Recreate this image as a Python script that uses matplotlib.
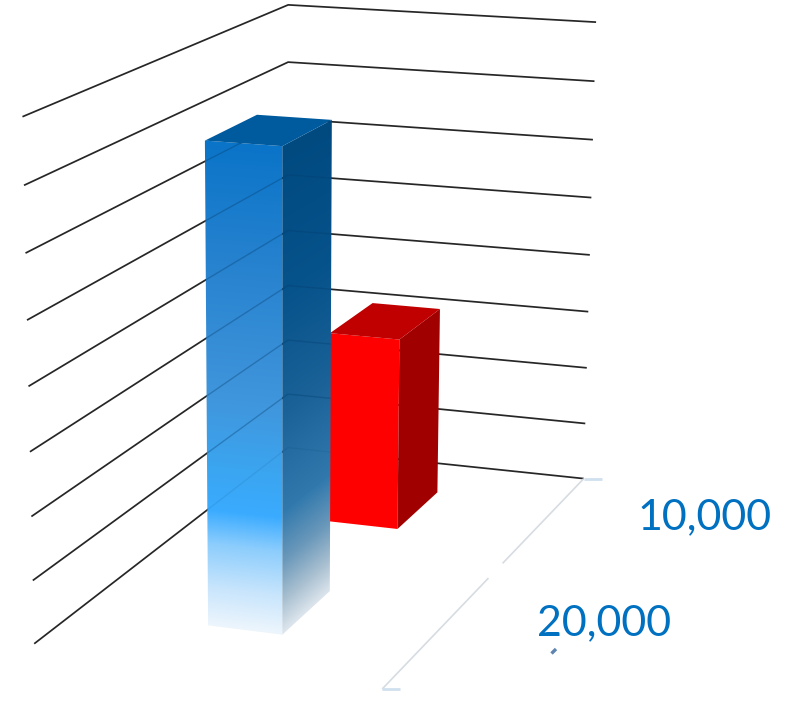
import numpy as np, matplotlib
matplotlib.use('Agg')
import matplotlib.pyplot as plt
from matplotlib.patches import Polygon
from matplotlib.colors import to_rgb

# chart data
grid_levels = list(range(9))
depth_labels = ['10,000', '20,000']
bar_values = [3.25, 7.49]
bar_colors = ['red', 'blue']
x_span = (0.390, 0.609)
y_spans = [(0.150, 0.348), (0.654, 0.849)]

# camera of the 3-D chart: (x, depth, level) -> picture pixels
P = np.array([[277.48642, -259.428842, -1.327449, 287.89412],
              [15.895948, 87.997779, -55.360632, 447.584868],
              [-0.03155887, -0.16798912, -0.00471837, 1.0]])

def proj(x, y, z):
    h = P @ np.array([x, y, z, 1.0])
    return h[:2] / h[2]

fig = plt.figure(figsize=(7.97, 7.10), dpi=100)
ax = fig.add_axes([0, 0, 1, 1])
ax.set_xlim(0, 797)
ax.set_ylim(710, 0)
ax.axis('off')

def line(pts, **k):
    pts = np.array(pts)
    return ax.plot(pts[:, 0], pts[:, 1], solid_capstyle='butt', **k)[0]

def wall_pts(z):
    return [proj(0, 1, z), proj(0, 0, z), proj(1, 0, z)]

for z in grid_levels:
    line(wall_pts(z), color='#262626', lw=1.25, zorder=1)

# floor edge with its gap and end ticks
fa, fb = proj(1, 0, 0), proj(1, 1, 0)
g0, g1 = 0.403, 0.473
line([fa, fa + (fb - fa) * g0], color='#d6dce2', lw=1.2, zorder=1)
line([fa + (fb - fa) * g1, fb], color='#d6dce2', lw=1.2, zorder=1)
for pt in (fa, fb):
    line([pt, pt + np.array([18, 0])], color='#cfe0ee', lw=2, zorder=1)
line([(556, 649), (551.5, 653.5)], color='#5d85b0', lw=2.4, zorder=1)

def grad_face(tl, tr, br, bl, stops, zorder):
    xs = np.arange(np.floor(min(tl[0], bl[0])) - 1, np.ceil(max(tr[0], br[0])) + 2)
    ys = np.arange(np.floor(min(tl[1], tr[1])) - 1, np.ceil(max(bl[1], br[1])) + 2)
    X, Y = np.meshgrid(xs + .5, ys + .5)
    fx = (X - tl[0]) / (tr[0] - tl[0])
    top = tl[1] + fx * (tr[1] - tl[1])
    bot = bl[1] + fx * (br[1] - bl[1])
    T = np.clip((Y - top) / (bot - top), 0, 1)
    ts = [s[0] for s in stops]
    cols = np.array([to_rgb(s[1]) for s in stops])
    img = np.dstack([np.interp(T, ts, cols[:, i]) for i in range(3)])
    im = ax.imshow(img, extent=(xs[0], xs[-1] + 1, ys[-1] + 1, ys[0]), aspect='auto',
                   zorder=zorder, interpolation='bilinear')
    poly = Polygon([tl, tr, br, bl], closed=True, transform=ax.transData, fc='none', ec='none')
    ax.add_patch(poly)
    im.set_clip_path(poly)
    return poly

front_stops = [(0, '#0a74c8'), (.28, '#2a84d0'), (.53, '#4096dc'), (.67, '#3ba5f0'),
               (.76, '#3aabff'), (.83, '#8ccdfd'), (.92, '#c8e5fc'), (1, '#eef6fd')]
side_stops = [(0, '#004a80'), (.3, '#06528a'), (.55, '#1a6298'), (.75, '#3179ad'),
              (.85, '#6a98ba'), (.93, '#a8bfd0'), (1, '#dfe7ee')]

for i, (v, c, (y0, y1)) in enumerate(zip(bar_values, bar_colors, y_spans)):
    x0, x1 = x_span
    ftl, ftr, fbr, fbl = proj(x0, y1, v), proj(x1, y1, v), proj(x1, y1, 0), proj(x0, y1, 0)
    btr, bbr, btl = proj(x1, y0, v), proj(x1, y0, 0), proj(x0, y0, v)
    zo = 2 + i
    if c == 'red':
        ax.add_patch(Polygon([ftl, ftr, fbr, fbl], fc='#ff0000', ec='none', zorder=zo))
        ax.add_patch(Polygon([ftr, btr, bbr, fbr], fc='#a00000', ec='none', zorder=zo))
        ax.add_patch(Polygon([ftl, btl, btr, ftr], fc='#c00000', ec='none', zorder=zo))
    else:
        pf = grad_face(ftl, ftr, fbr, fbl, front_stops, zo)
        ps = grad_face(ftr, btr, bbr, fbr, side_stops, zo)
        ax.add_patch(Polygon([ftl, btl, btr, ftr], fc='#005a9e', ec='none', zorder=zo))
        for z in grid_levels:
            a = 0.10 if z == 0 else 0.36
            for poly in (pf, ps):
                l = line(wall_pts(z), color='#063f70', lw=1, alpha=a, zorder=zo + 1)
                l.set_clip_path(poly)

for lab, (tx, ty) in zip(depth_labels, [(637, 529), (537, 635)]):
    ax.text(tx, ty, lab, family='Lato', fontsize=31, color='#0070c0',
            ha='left', va='baseline', zorder=6)

fig.savefig('out.png', dpi=100)
